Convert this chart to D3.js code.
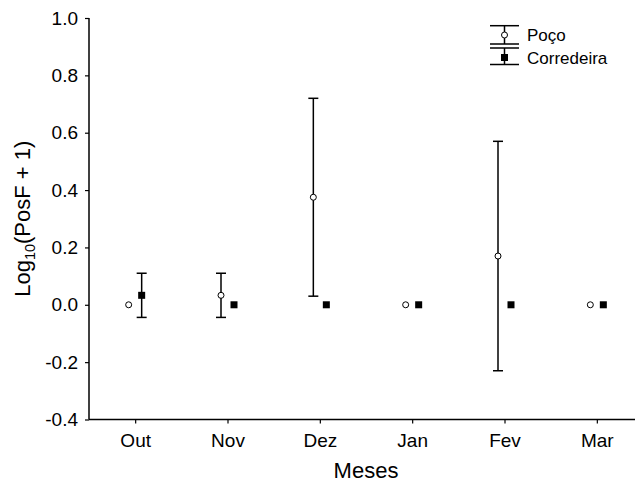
<!DOCTYPE html>
<html>
<head>
<meta charset="utf-8">
<script src="https://cdn.jsdelivr.net/npm/d3@7"></script>
<style>
  html, body { margin: 0; padding: 0; background: #fff; }
  svg { display: block; font-family: "Liberation Sans", Arial, sans-serif; }
</style>
</head>
<body>
<svg id="chart" width="635" height="483"></svg>
<script>
const months = ["Out", "Nov", "Dez", "Jan", "Fev", "Mar"];
const pocoMean = [0.0, 0.033, 0.375, 0.0, 0.17, 0.0];
const pocoErr  = [0.0, 0.077, 0.345, 0.0, 0.40, 0.0];
const corrMean = [0.033, 0.0, 0.0, 0.0, 0.0, 0.0];
const corrErr  = [0.077, 0.0, 0.0, 0.0, 0.0, 0.0];
const yTicks = [-0.4, -0.2, 0.0, 0.2, 0.4, 0.6, 0.8, 1.0];
const seriesNames = ["Poço", "Corredeira"];

const svg = d3.select("#chart");
const mLeft = 89, mRight = 643, mTop = 18, mBottom = 419.5;

const x = d3.scaleLinear().domain([-0.5, months.length - 0.5]).range([mLeft, mRight]);
const y = d3.scaleLinear().domain([-0.4, 1.0]).range([mBottom, mTop]);

// axes
const yAxis = d3.axisLeft(y).tickValues(yTicks).tickSize(4).tickPadding(7)
  .tickFormat(d => d.toFixed(1));
const gy = svg.append("g").attr("transform", `translate(${mLeft},0)`).call(yAxis);
gy.select(".domain").attr("stroke-width", 1.5).attr("d", `M0,${y(1.0)}V${y(-0.4)}`);

const xAxis = d3.axisBottom(x).tickValues(d3.range(months.length)).tickSize(4).tickPadding(10)
  .tickFormat(i => months[i]);
const gx = svg.append("g").attr("transform", `translate(0,${mBottom})`).call(xAxis);
gx.select(".domain").attr("stroke-width", 1.5).attr("d", `M${mLeft},0H${mRight}`);

svg.selectAll(".tick line").attr("stroke", "#000").attr("stroke-width", 1.2);
svg.selectAll(".tick text").attr("font-size", 19).attr("fill", "#000")
  .attr("font-family", "Liberation Sans, Arial, sans-serif");

// titles
const yt = svg.append("text")
  .attr("transform", `translate(30,${(mTop + mBottom) / 2}) rotate(-90)`)
  .attr("text-anchor", "middle").attr("font-size", 22).attr("fill", "#000");
yt.append("tspan").text("Log");
yt.append("tspan").text("10").attr("font-size", 14.5).attr("dy", 5);
yt.append("tspan").text("(PosF + 1)").attr("dy", -5);

svg.append("text").attr("x", (mLeft + mRight) / 2).attr("y", 478)
  .attr("text-anchor", "middle").attr("font-size", 22).attr("fill", "#000").text("Meses");

const off = 6.5, cap = 5;
function errBars(mean, err, dx) {
  const d = months.map((m, i) => ({ i, m: mean[i], e: err[i] })).filter(o => o.e > 0);
  const g = svg.append("g").attr("stroke", "#000").attr("stroke-width", 1.5).attr("fill", "none");
  d.forEach(o => {
    const cx = x(o.i) + dx;
    g.append("line").attr("x1", cx).attr("x2", cx).attr("y1", y(o.m + o.e)).attr("y2", y(o.m - o.e));
    g.append("line").attr("x1", cx - cap).attr("x2", cx + cap).attr("y1", y(o.m + o.e)).attr("y2", y(o.m + o.e));
    g.append("line").attr("x1", cx - cap).attr("x2", cx + cap).attr("y1", y(o.m - o.e)).attr("y2", y(o.m - o.e));
  });
}
errBars(pocoMean, pocoErr, -off);
errBars(corrMean, corrErr, off);

// points
svg.append("g").selectAll("circle").data(pocoMean).join("circle")
  .attr("cx", (d, i) => x(i) - off).attr("cy", d => y(d)).attr("r", 3)
  .attr("fill", "#fff").attr("stroke", "#000").attr("stroke-width", 1);
svg.append("g").selectAll("rect").data(corrMean).join("rect")
  .attr("x", (d, i) => x(i) + off - 3.5).attr("y", d => y(d) - 3.5)
  .attr("width", 7).attr("height", 7).attr("fill", "#000");

// legend
const lg = svg.append("g");
const lx = 504.5;
const ls = lg.append("g").attr("stroke", "#000").attr("stroke-width", 1.5);
[[25.7, 44], [48, 64.5]].forEach(([a, b]) => {
  ls.append("line").attr("x1", lx - 14.5).attr("x2", lx + 14.5).attr("y1", a).attr("y2", a);
  ls.append("line").attr("x1", lx - 14.5).attr("x2", lx + 14.5).attr("y1", b).attr("y2", b);
  ls.append("line").attr("x1", lx).attr("x2", lx).attr("y1", a).attr("y2", b);
});
lg.append("circle").attr("cx", lx).attr("cy", 35).attr("r", 3)
  .attr("fill", "#fff").attr("stroke", "#000").attr("stroke-width", 1);
lg.append("rect").attr("x", lx - 3.5).attr("y", 57.5 - 3.5).attr("width", 7).attr("height", 7).attr("fill", "#000");
lg.append("text").attr("x", 527).attr("y", 41).attr("font-size", 17).attr("fill", "#000").text(seriesNames[0]);
lg.append("text").attr("x", 527).attr("y", 63.5).attr("font-size", 17).attr("fill", "#000").text(seriesNames[1]);
</script>
</body>
</html>
